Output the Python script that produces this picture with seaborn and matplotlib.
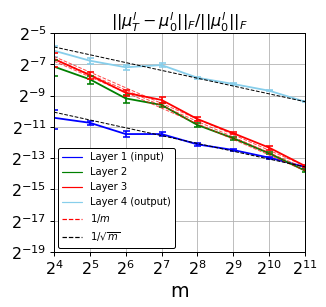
import numpy as np
import pandas as pd
import seaborn as sns
import matplotlib.pyplot as plt
from matplotlib.lines import Line2D

# widths m and mean relative change per layer (read as log2 values)
m = [16, 32, 64, 128, 256, 512, 1024, 2048]
layers = ["Layer 1 (input)", "Layer 2", "Layer 3", "Layer 4 (output)"]
colors = ["blue", "green", "red", "skyblue"]
log2_l1 = [-10.42, -10.74, -11.46, -11.46, -12.12, -12.48, -12.97, -13.56]
log2_l2 = [-7.15, -7.96, -9.18, -9.60, -10.88, -11.73, -12.69, -13.80]
log2_l3 = [-6.66, -7.69, -8.82, -9.28, -10.50, -11.41, -12.33, -13.50]
log2_l4 = [-6.13, -6.77, -7.19, -7.05, -7.86, -8.26, -8.69, -9.39]
# relative std (fraction of mean)
rel_l1 = [0.40, 0.10, 0.12, 0.08, 0.07, 0.03, 0.04, 0.03]
rel_l2 = [0.35, 0.18, 0.17, 0.10, 0.10, 0.06, 0.05, 0.07]
rel_l3 = [0.30, 0.15, 0.15, 0.13, 0.09, 0.05, 0.08, 0.04]
rel_l4 = [0.25, 0.12, 0.10, 0.08, 0.05, 0.03, 0.03, 0.02]

# reference slopes, anchored at m = 2^11 (log2 values)
anchor_1_m = [-13.50, -13.65, -13.80]
anchor_1_sqrt_m = [-9.39, -13.56]

means = [np.power(2.0, v) for v in (log2_l1, log2_l2, log2_l3, log2_l4)]
rels = [rel_l1, rel_l2, rel_l3, rel_l4]

df = pd.concat([pd.DataFrame({"m": m, "val": mu, "layer": name})
                for mu, name in zip(means, layers)])

sns.set_style("white")
plt.rcParams["mathtext.fontset"] = "dejavusans"
plt.rcParams["text.color"] = "black"
plt.rcParams["axes.labelcolor"] = "black"
plt.rcParams["xtick.color"] = "black"
plt.rcParams["ytick.color"] = "black"

fig = plt.figure(figsize=(326 / 72, 307 / 72), dpi=72)
ax = fig.add_axes([0.1656, 0.1792, 0.77, 0.7133])

sns.lineplot(data=df, x="m", y="val", hue="layer", palette=colors,
             hue_order=layers, linewidth=1.8, ax=ax, legend=False)
for mu, rel, c in zip(means, rels, colors):
    ax.errorbar(m, mu, yerr=mu * np.array(rel), fmt="none", ecolor=c,
                elinewidth=1.6, capsize=3.5, capthick=1.6)

mm = np.array(m, dtype=float)
for a in anchor_1_m:
    ax.plot(mm, 2.0 ** a * 2048 / mm, "--", color="red", lw=1, alpha=0.7)
for a in anchor_1_sqrt_m:
    ax.plot(mm, 2.0 ** a * np.sqrt(2048 / mm), "--", color="black", lw=1)

ax.set_xscale("log", base=2)
ax.set_yscale("log", base=2)
ax.set_xlim(16, 2048)
ax.set_ylim(2.0 ** -19, 2.0 ** -5)
ax.set_xticks([2.0 ** k for k in range(4, 12)])
ax.set_yticks([2.0 ** k for k in range(-19, -4, 2)])
ax.minorticks_off()
ax.tick_params(labelsize=16, direction="out", length=4, width=1, left=True, bottom=True)
ax.grid(True, color="#b0b0b0", linewidth=0.8)
for s in ax.spines.values():
    s.set_color("black")
    s.set_linewidth(1)

ax.set_xlabel("m", fontsize=19)
ax.set_ylabel("")
ax.set_title(r"$||\mu_T^l - \mu_0^l||_F / ||\mu_0^l||_F$", fontsize=16)

handles = [Line2D([], [], color=c, lw=1.2) for c in colors]
handles += [Line2D([], [], color="red", lw=1.2, ls="--"),
            Line2D([], [], color="black", lw=1.2, ls="--")]
labels = layers + ["$1/m$", r"$1/\sqrt{m}$"]
ax.legend(handles, labels, loc="lower left", fontsize=10, frameon=True,
          fancybox=True, framealpha=1, edgecolor="black", handlelength=2.0,
          borderaxespad=0.4)

fig.savefig("out.png", dpi=72)
